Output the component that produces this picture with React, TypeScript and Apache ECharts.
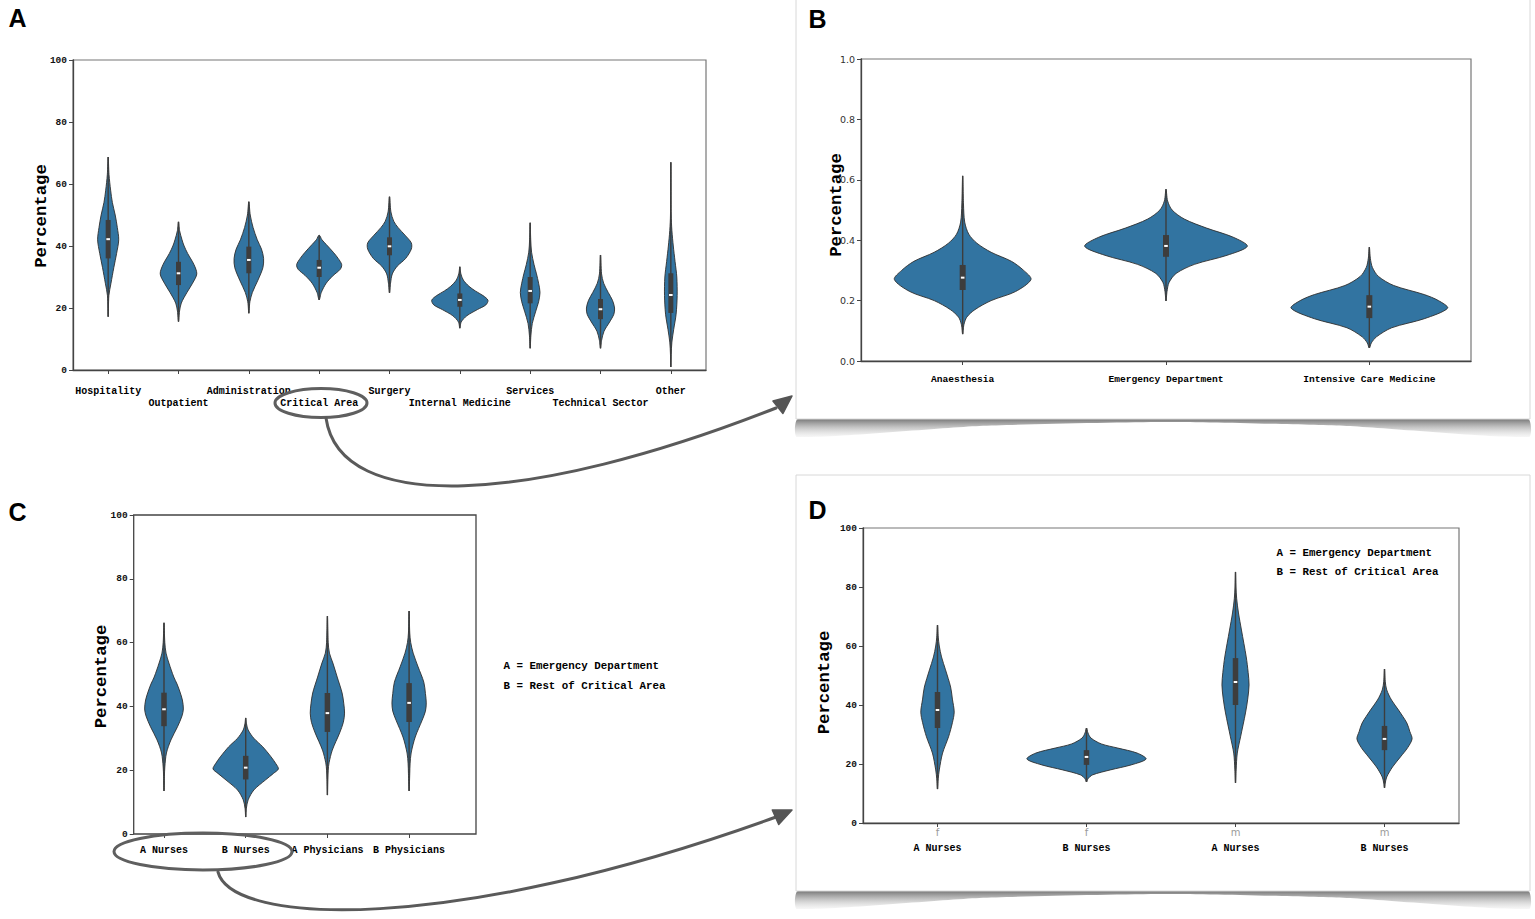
import React, { useEffect, useRef } from 'react';
import * as echarts from 'echarts';

// ---------- Panel A ----------
const aCategories = ['Hospitality', 'Outpatient', 'Administration', 'Critical Area', 'Surgery', 'Internal Medicine', 'Services', 'Technical Sector', 'Other'];
// [min, q1, median, q3, max]
const aBoxes = [
  [17.2, 36, 42.2, 48.4, 68.7],
  [15.6, 27.4, 31.2, 34.9, 47.8],
  [18.3, 31.2, 35.5, 39.8, 54.3],
  [22.6, 30, 33, 35.5, 43.5],
  [24.9, 37, 39.9, 42.8, 55.9],
  [13.5, 20.4, 22.6, 24.7, 33.3],
  [7, 21.5, 25.5, 30, 47.5],
  [7, 16.4, 19.6, 22.9, 37.1],
  [1, 18.4, 24.2, 31.2, 67],
];
// [value, half width as fraction of category band]
const aProfiles = [
  [[17.2, 0], [24, 0.01], [28, 0.04], [33, 0.08], [37.6, 0.12], [42, 0.15], [46, 0.13], [50, 0.1], [54, 0.06], [58, 0.035], [63, 0.012], [68.7, 0]],
  [[15.6, 0], [19, 0.015], [21.6, 0.04], [25, 0.12], [28, 0.2], [31, 0.26], [34, 0.22], [37.6, 0.13], [40, 0.08], [42, 0.05], [45, 0.015], [47.8, 0]],
  [[18.3, 0], [22, 0.015], [25, 0.05], [29, 0.13], [33, 0.2], [36, 0.21], [39, 0.18], [42, 0.12], [46, 0.06], [50, 0.02], [54.3, 0]],
  [[22.6, 0], [25, 0.03], [28, 0.1], [30.5, 0.2], [32.5, 0.3], [34, 0.32], [36, 0.27], [38, 0.2], [40.5, 0.1], [42, 0.04], [43.5, 0]],
  [[24.9, 0], [28, 0.015], [31, 0.04], [33.5, 0.11], [36, 0.23], [39, 0.31], [41, 0.31], [43.5, 0.22], [46, 0.12], [48, 0.06], [51, 0.02], [55.9, 0]],
  [[13.5, 0], [15.5, 0.02], [17.5, 0.1], [19.5, 0.25], [21, 0.37], [22.5, 0.4], [24, 0.33], [25.5, 0.22], [27, 0.13], [29, 0.05], [31, 0.015], [33.3, 0]],
  [[7, 0], [11, 0.01], [15, 0.03], [19, 0.08], [22, 0.12], [25, 0.14], [28, 0.12], [31, 0.09], [34, 0.055], [38, 0.02], [42, 0.008], [47.5, 0]],
  [[7, 0], [9.5, 0.015], [12.5, 0.05], [15.5, 0.13], [18, 0.19], [20, 0.2], [22.5, 0.17], [25, 0.11], [28, 0.045], [31, 0.015], [37.1, 0]],
  [[1, 0], [5, 0.005], [9, 0.015], [13, 0.04], [18, 0.075], [24, 0.09], [30, 0.085], [35, 0.06], [40, 0.035], [45, 0.015], [50, 0.005], [67, 0]],
];

// ---------- Panel B ----------
const bCategories = ['Anaesthesia', 'Emergency Department', 'Intensive Care Medicine'];
const bBoxes = [
  [0.089, 0.235, 0.276, 0.318, 0.613],
  [0.199, 0.345, 0.381, 0.417, 0.569],
  [0.043, 0.142, 0.18, 0.218, 0.377],
];
const bProfiles = [
  [[0.089, 0], [0.12, 0.006], [0.145, 0.02], [0.17, 0.06], [0.2, 0.14], [0.23, 0.26], [0.27, 0.336], [0.3, 0.3], [0.33, 0.24], [0.36, 0.14], [0.39, 0.07], [0.42, 0.03], [0.46, 0.01], [0.52, 0.004], [0.613, 0]],
  [[0.199, 0], [0.23, 0.005], [0.26, 0.015], [0.29, 0.05], [0.32, 0.14], [0.35, 0.3], [0.38, 0.4], [0.41, 0.33], [0.44, 0.2], [0.47, 0.09], [0.5, 0.03], [0.53, 0.008], [0.569, 0]],
  [[0.043, 0], [0.06, 0.01], [0.08, 0.035], [0.11, 0.11], [0.14, 0.27], [0.175, 0.385], [0.2, 0.34], [0.22, 0.27], [0.25, 0.12], [0.28, 0.045], [0.31, 0.015], [0.34, 0.005], [0.377, 0]],
];

// ---------- Panel C ----------
const cCategories = ['A Nurses', 'B Nurses', 'A Physicians', 'B Physicians'];
const cBoxes = [
  [13.5, 33.8, 39.1, 44.3, 66.2],
  [5.3, 17.1, 20.8, 24.5, 36.4],
  [12.2, 32, 37.9, 44.2, 68.3],
  [13.5, 35.1, 41.1, 47.3, 69.9],
];
const cProfiles = [
  [[13.5, 0], [18, 0.005], [21, 0.01], [25.4, 0.03], [29.5, 0.085], [33.6, 0.165], [37, 0.22], [39.2, 0.237], [42, 0.225], [44.5, 0.196], [47, 0.16], [49.2, 0.12], [53.6, 0.06], [56.7, 0.025], [60, 0.01], [66.2, 0]],
  [[5.3, 0], [8, 0.008], [10.7, 0.03], [13.8, 0.1], [16.9, 0.24], [19, 0.34], [20.4, 0.4], [22, 0.37], [24.2, 0.31], [27.3, 0.21], [30, 0.1], [32.6, 0.03], [34.5, 0.01], [36.4, 0]],
  [[12.2, 0], [17, 0.005], [20, 0.01], [22.3, 0.02], [26.3, 0.06], [31.7, 0.15], [35, 0.195], [37.9, 0.21], [41, 0.2], [44.2, 0.18], [49.2, 0.12], [53.6, 0.067], [56.7, 0.025], [60, 0.01], [68.3, 0]],
  [[13.5, 0], [19, 0.008], [22, 0.012], [25.4, 0.025], [30.4, 0.075], [35.7, 0.16], [38.5, 0.2], [41.1, 0.21], [44, 0.2], [47.6, 0.18], [52.4, 0.11], [56.7, 0.05], [60, 0.02], [63, 0.008], [69.9, 0]],
];
const legendLines = ['A = Emergency Department', 'B = Rest of Critical Area'];

// ---------- Panel D ----------
const dSex = ['f', 'f', 'm', 'm'];
const dGroup = ['A Nurses', 'B Nurses', 'A Nurses', 'B Nurses'];
const dBoxes = [
  [11.5, 32.2, 38.3, 44.4, 67.1],
  [13.9, 19.7, 22.4, 24.7, 32.2],
  [13.6, 40, 47.8, 55.9, 85.1],
  [11.9, 24.7, 28.5, 32.9, 52.2],
];
const dProfiles = [
  [[11.5, 0], [15, 0.005], [18, 0.012], [23.7, 0.034], [29.2, 0.074], [34, 0.1], [37.6, 0.112], [42, 0.1], [46.1, 0.088], [51.9, 0.054], [56.3, 0.027], [60, 0.012], [63, 0.005], [67.1, 0]],
  [[13.9, 0], [15, 0.01], [16.3, 0.04], [18, 0.16], [19.7, 0.3], [21.7, 0.4], [23.7, 0.34], [25.4, 0.21], [26.8, 0.1], [28.8, 0.03], [30.5, 0.01], [32.2, 0]],
  [[13.6, 0], [18, 0.004], [23.7, 0.012], [29.2, 0.034], [37.3, 0.067], [42, 0.082], [46.8, 0.091], [51, 0.085], [56.3, 0.072], [65.4, 0.04], [71.2, 0.02], [76, 0.008], [80, 0.003], [85.1, 0]],
  [[11.9, 0], [13.5, 0.005], [15.6, 0.015], [19, 0.054], [22.4, 0.107], [25.5, 0.155], [28.5, 0.185], [31, 0.17], [33.9, 0.15], [38.3, 0.094], [41.7, 0.047], [45.1, 0.015], [48, 0.005], [52.2, 0]],
];

const MONO = "'Liberation Mono', 'DejaVu Sans Mono', monospace";
const SANS = "'Liberation Sans', Arial, sans-serif";
const VIOLIN = '#3274a1';
const DARK = '#3d3d3d';
const AXIS = '#444';

function violinRender(profiles: number[][][], boxes: number[][], boxW: number) {
  return (params: any, api: any) => {
    const i = api.value(0);
    const band = api.size([1, 0])[0];
    const prof = profiles[i];
    const b = boxes[i];
    const cx = api.coord([i, b[2]])[0];
    const y = (v: number) => api.coord([i, v])[1];
    const right = prof.map(([v, w]) => [cx + w * band, y(v)]);
    const left = prof.slice(1, -1).reverse().map(([v, w]) => [cx - w * band, y(v)]);
    const yMin = y(b[0]), yQ1 = y(b[1]), yMed = y(b[2]), yQ3 = y(b[3]), yMax = y(b[4]);
    return {
      type: 'group',
      children: [
        { type: 'polygon', shape: { points: right.concat(left), smooth: 0.3 }, style: { fill: VIOLIN, stroke: '#2f2f2f', lineWidth: 0.9 } },
        { type: 'line', shape: { x1: cx, y1: yMin, x2: cx, y2: yMax }, style: { stroke: DARK, lineWidth: 1.4 } },
        { type: 'rect', shape: { x: cx - boxW / 2, y: yQ3, width: boxW, height: yQ1 - yQ3 }, style: { fill: DARK } },
        { type: 'rect', shape: { x: cx - 1.8, y: yMed - 1, width: 3.6, height: 2 }, style: { fill: '#ffffff' } },
      ],
    };
  };
}

function yAxisBase(gridIndex: number, extra: any = {}) {
  return {
    type: 'value',
    gridIndex,
    min: 0,
    max: 100,
    interval: 20,
    axisLine: { show: true, lineStyle: { color: AXIS, width: 1.3 } },
    axisTick: { show: true, length: 4, lineStyle: { color: AXIS } },
    splitLine: { show: false },
    axisLabel: { fontFamily: MONO, fontWeight: 'bold', fontSize: 9.5, color: '#111', margin: 6 },
    ...extra,
  };
}

function xAxisBase(gridIndex: number, data: string[], label: any, extra: any = {}) {
  return {
    type: 'category',
    gridIndex,
    data,
    axisLine: { show: true, onZero: false, lineStyle: { color: AXIS, width: 1.3 } },
    axisTick: { show: true, alignWithLabel: true, length: 4, lineStyle: { color: AXIS } },
    splitLine: { show: false },
    axisLabel: { interval: 0, fontFamily: MONO, fontWeight: 'bold', fontSize: 10, color: '#000', lineHeight: 12, ...label },
    ...extra,
  };
}

function percentText(x: number, y: number) {
  return {
    type: 'text', x, y, rotation: Math.PI / 2, z: 10,
    style: { text: 'Percentage', fontFamily: MONO, fontWeight: 'bold', fontSize: 17.3, fill: '#000', align: 'center', verticalAlign: 'middle' },
  };
}

function letter(t: string, x: number, y: number) {
  return {
    type: 'text', x, y, z: 10,
    style: { text: t, fontFamily: SANS, fontWeight: 'bold', fontSize: 25, fill: '#000', align: 'center', verticalAlign: 'middle' },
  };
}

function legendTexts(x: number, y0: number, gap: number) {
  return legendLines.map((t, k) => ({
    type: 'text', x, y: y0 + k * gap, z: 10,
    style: { text: t, fontFamily: MONO, fontWeight: 'bold', fontSize: 10.8, fill: '#000', align: 'left', verticalAlign: 'middle' },
  }));
}

function card(x: number, y: number, w: number, h: number) {
  const bottom = y + h;
  return [
    {
      type: 'polygon', z: -6,
      shape: { points: [[x + 2, bottom], [x + w - 2, bottom], [x + w - 1, bottom + 18], [x + w * 0.75, bottom + 7], [x + w * 0.5, bottom + 3], [x + w * 0.25, bottom + 7], [x + 1, bottom + 18]], smooth: 0.2 },
      style: {
        fill: {
          type: 'linear', x: 0, y: 0, x2: 0, y2: 1,
          colorStops: [{ offset: 0, color: 'rgba(70,70,70,0.9)' }, { offset: 1, color: 'rgba(200,200,200,0.15)' }],
        },
      },
    },
    { type: 'rect', z: -5, shape: { x, y, width: w, height: h }, style: { fill: '#ffffff', stroke: '#d8d8d8', lineWidth: 1 } },
  ];
}

function arrowHead(tip: number[], from: number[]) {
  const dx = tip[0] - from[0], dy = tip[1] - from[1];
  const len = Math.hypot(dx, dy);
  const ux = dx / len, uy = dy / len;
  const bx = tip[0] - 18 * ux, by = tip[1] - 18 * uy;
  const px = -uy * 8, py = ux * 8;
  return {
    type: 'polygon', z: 10,
    shape: { points: [tip, [bx + px, by + py], [bx - px, by - py]] },
    style: { fill: '#555', stroke: '#555', lineWidth: 1.5, lineJoin: 'round' },
  };
}

const curveStyle = { stroke: '#5a5a5a', lineWidth: 3, lineCap: 'round', fill: null };

export default function App() {
  const ref = useRef<HTMLDivElement>(null);
  useEffect(() => {
    if (!ref.current) return;
    const chart = echarts.init(ref.current, null, { renderer: 'svg' });
    const option: any = {
      animation: false,
      backgroundColor: '#ffffff',
      grid: [
        { left: 73, top: 60, width: 633, height: 310, show: true, borderColor: '#777', borderWidth: 1.2, outerBoundsMode: 'none', containLabel: false },
        { left: 861, top: 59, width: 610, height: 302, show: true, borderColor: '#777', borderWidth: 1.2, outerBoundsMode: 'none', containLabel: false },
        { left: 123.15, top: 515, width: 326.8, height: 319, show: false, outerBoundsMode: 'none', containLabel: false },
        { left: 863, top: 528, width: 596, height: 295, show: true, borderColor: '#777', borderWidth: 1.2, outerBoundsMode: 'none', containLabel: false },
      ],
      xAxis: [
        xAxisBase(0, aCategories, { margin: 15, formatter: (v: string, i: number) => (i % 2 ? '\n' + v : v) }),
        xAxisBase(1, bCategories, { margin: 12, fontSize: 9.6 }),
        xAxisBase(2, cCategories, { margin: 10 }, { axisLine: { show: false } }),
        xAxisBase(3, dGroup.map((g, i) => dSex[i] + ' ' + g), {
          margin: 3,
          formatter: (v: string, i: number) => `{s|${dSex[i]}}\n{n|${dGroup[i]}}`,
          rich: {
            s: { fontFamily: "'DejaVu Sans', sans-serif", fontWeight: 'normal', fontSize: 10, color: '#9a9a9a', lineHeight: 12 },
            n: { fontFamily: MONO, fontWeight: 'bold', fontSize: 10, color: '#000', lineHeight: 20 },
          },
        }),
      ],
      yAxis: [
        yAxisBase(0),
        yAxisBase(1, {
          min: 0, max: 1, interval: 0.2,
          axisLabel: { fontFamily: "'DejaVu Sans', sans-serif", fontSize: 9.5, color: '#333', margin: 6, formatter: (v: number) => v.toFixed(1) },
        }),
        yAxisBase(2, { offset: -10.55, axisLine: { show: false } }),
        yAxisBase(3),
      ],
      series: [
        { type: 'custom', xAxisIndex: 0, yAxisIndex: 0, clip: false, data: aCategories.map((_, k) => [k, aBoxes[k][2]]), renderItem: violinRender(aProfiles, aBoxes, 5) },
        { type: 'custom', xAxisIndex: 1, yAxisIndex: 1, clip: false, data: bCategories.map((_, k) => [k, bBoxes[k][2]]), renderItem: violinRender(bProfiles, bBoxes, 6) },
        { type: 'custom', xAxisIndex: 2, yAxisIndex: 2, clip: false, data: cCategories.map((_, k) => [k, cBoxes[k][2]]), renderItem: violinRender(cProfiles, cBoxes, 5.5) },
        { type: 'custom', xAxisIndex: 3, yAxisIndex: 3, clip: false, data: dGroup.map((_, k) => [k, dBoxes[k][2]]), renderItem: violinRender(dProfiles, dBoxes, 5.5) },
      ],
      graphic: {
        elements: [
          ...card(796, -2, 734, 421),
          ...card(796, 475, 734, 416),
          { type: 'rect', z: 1, shape: { x: 133.7, y: 515, width: 342.3, height: 319 }, style: { fill: null, stroke: AXIS, lineWidth: 1.3 } },
          letter('A', 17.5, 18),
          letter('B', 817.5, 19),
          letter('C', 17.5, 512),
          letter('D', 817.5, 509.5),
          percentText(41, 216),
          percentText(836.5, 205),
          percentText(101, 676.5),
          percentText(824, 682.5),
          ...legendTexts(503.5, 666, 19.7),
          ...legendTexts(1276.5, 553, 19.3),
          { type: 'ellipse', z: 10, shape: { cx: 321, cy: 403, rx: 46, ry: 14.5 }, style: { fill: null, stroke: '#5f5f5f', lineWidth: 3 } },
          { type: 'ellipse', z: 10, shape: { cx: 203, cy: 851.5, rx: 89, ry: 18.5 }, style: { fill: null, stroke: '#5f5f5f', lineWidth: 3 } },
          { type: 'bezierCurve', z: 10, shape: { x1: 326, y1: 418, cpx1: 340, cpy1: 515, cpx2: 530, cpy2: 505, x2: 776, y2: 408 }, style: curveStyle },
          arrowHead([792, 396], [772, 412]),
          { type: 'bezierCurve', z: 10, shape: { x1: 218, y1: 872, cpx1: 232, cpy1: 925, cpx2: 450, cpy2: 935, x2: 776, y2: 817 }, style: curveStyle },
          arrowHead([792, 810], [776, 817]),
        ],
      },
    };
    chart.setOption(option);
    return () => chart.dispose();
  }, []);
  return <div ref={ref} style={{ position: 'absolute', left: 0, top: 0, width: 1535, height: 919, background: '#fff' }} />;
}
